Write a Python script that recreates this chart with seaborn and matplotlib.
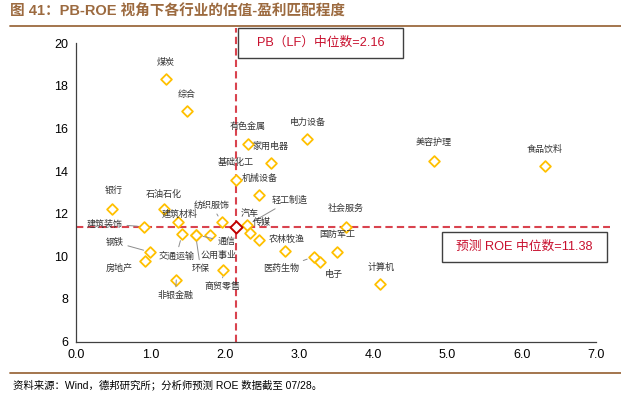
import numpy as np
import pandas as pd
import matplotlib
matplotlib.use('Agg')
import matplotlib.pyplot as plt
from matplotlib.patches import Rectangle
from matplotlib.lines import Line2D
import seaborn as sns

# industry data: PB (LF) and forecast ROE
industries = ['煤炭', '综合', '有色金属', '家用电器', '电力设备', '基础化工', '机械设备',
              '轻工制造', '汽车', '传媒', '农林牧渔', '医药生物', '电子', '国防军工',
              '社会服务', '计算机', '美容护理', '食品饮料', '银行', '石油石化', '建筑材料',
              '建筑装饰', '纺织服饰', '交通运输', '环保', '通信', '公用事业', '钢铁',
              '房地产', '非银金融', '商贸零售']
pb = [1.21, 1.49, 2.31, 2.62, 3.11, 2.15, 2.46,
      2.30, 2.34, 2.47, 2.81, 3.20, 3.28, 3.52,
      3.63, 4.09, 4.82, 6.31, 0.49, 1.19, 1.37,
      0.92, 1.96, 1.43, 1.61, 1.62, 1.80, 1.00,
      0.93, 1.35, 1.98]
roe = [18.31, 16.82, 15.29, 14.39, 15.51, 13.58, 12.86,
       11.46, 11.11, 10.75, 10.26, 9.98, 9.75, 10.20,
       11.39, 8.69, 14.49, 14.23, 12.23, 12.21, 11.61,
       11.39, 11.61, 11.05, 11.01, 11.01, 11.01, 10.20,
       9.77, 8.89, 9.36]
pb_median = 2.16
roe_median = 11.38

df = pd.DataFrame({'industry': industries, 'pb': pb, 'roe': roe})

# label offsets in pixels (dx, dy) and whether a leader line is drawn
label_pos = {
    '煤炭': (0, 17, False), '综合': (0, 17, False), '有色金属': (0, 17, False),
    '家用电器': (0, 17, False), '电力设备': (1, 17, False), '基础化工': (0, 18, False),
    '机械设备': (1, 17, False), '轻工制造': (43, 25, True), '汽车': (0, 19, False),
    '传媒': (2, 18, False), '农林牧渔': (2, 11, False), '医药生物': (-33, -12, True),
    '电子': (14, -13, False), '国防军工': (0, 18, False), '社会服务': (0, 18, False),
    '计算机': (1, 17, False), '美容护理': (0, 18, False), '食品饮料': (0, 17, False),
    '银行': (1, 18, False), '石油石化': (-1, 15, False), '建筑材料': (2, 8, False),
    '建筑装饰': (-40, 3, True), '纺织服饰': (-10, 17, True), '交通运输': (-6, -22, True),
    '环保': (5, -34, True), '通信': (30, -7, True), '公用事业': (9, -20, False),
    '钢铁': (-36, 10, True), '房地产': (-26, -7, False), '非银金融': (-1, -16, True),
    '商贸零售': (-1, -17, True),
}

sns.set_style('white')
plt.rcParams['font.family'] = ['Liberation Sans', 'Noto Sans CJK SC']

fig = plt.figure(figsize=(6.21, 3.94), dpi=100)
ax = fig.add_axes([0.1224, 0.1332, 0.8373, 0.7568])

brown = '#9C6A3F'
red_line = '#D9434E'
red_text = '#C8102E'

# median lines run a little past the plot area, as in the original
ax.axvline(pb_median, ymin=0, ymax=1.053, color=red_line, ls=(0, (3.5, 2)), lw=1.5,
           zorder=1, clip_on=False)
ax.axhline(roe_median, xmin=0, xmax=1.027, color=red_line, ls=(0, (3.5, 2)), lw=1.5,
           zorder=1, clip_on=False)

sns.scatterplot(data=df, x='pb', y='roe', marker='D', s=30, facecolor='white',
                edgecolor='#FFC000', linewidth=1.3, ax=ax, zorder=3)
sns.scatterplot(x=[pb_median], y=[roe_median], marker='D', s=38, facecolor='white',
                edgecolor='#C00000', linewidth=1.4, ax=ax, zorder=4)

for name, x, y in zip(industries, pb, roe):
    dx, dy, leader = label_pos[name]
    arrow = dict(arrowstyle='-', color='#8C8C8C', lw=0.7, shrinkA=1, shrinkB=5) if leader else None
    ax.annotate(name, (x, y), xytext=(dx, dy), textcoords='offset pixels',
                ha='center', va='center', fontsize=6.5, color='#333333',
                family=['Noto Sans CJK SC'], arrowprops=arrow, zorder=5)

ax.set_xlim(0, 7)
ax.set_ylim(6, 20)
ax.set_xticks(np.arange(0, 7.01, 1))
ax.set_xticklabels([f'{v:.1f}' for v in np.arange(0, 7.01, 1)])
ax.set_yticks(np.arange(6, 20.01, 2))
ax.set_xlabel('')
ax.set_ylabel('')
for s in ['top', 'right']:
    ax.spines[s].set_visible(False)
for s in ['left', 'bottom']:
    ax.spines[s].set_color('#404040')
    ax.spines[s].set_linewidth(0.9)
ax.tick_params(axis='both', direction='inout', length=5, width=0.9, color='#404040',
               labelsize=9, labelcolor='#000000', pad=3)

# median text boxes (figure pixel coords), drawn on top of the axes content
W, H = 621, 394
def pixel_box(x0, y0, x1, y1, text):
    ax.add_patch(Rectangle((x0 / W, 1 - y1 / H), (x1 - x0) / W, (y1 - y0) / H,
                           transform=fig.transFigure, facecolor='white',
                           edgecolor='#404040', lw=1.0, zorder=10, clip_on=False))
    ax.text((x0 + x1) / 2 / W, 1 - (y0 + y1) / 2 / H, text, ha='center', va='center',
            fontsize=9.2, color=red_text, zorder=11, transform=fig.transFigure,
            clip_on=False)

pixel_box(238, 28, 403, 58, 'PB（LF）中位数=2.16')
pixel_box(442, 232, 607, 262, '预测 ROE 中位数=11.38')

# title, rules and source note
fig.text(10 / W, 1 - 12 / H, '图 41：PB-ROE 视角下各行业的估值-盈利匹配程度',
         ha='left', va='center', fontsize=10.5, fontweight='bold', color=brown,
         family=['Liberation Sans', 'Noto Sans CJK SC'])
fig.add_artist(Line2D([10 / W, 1], [1 - 26 / H] * 2, color=brown, lw=1.3,
                      transform=fig.transFigure))
fig.add_artist(Line2D([10 / W, 1], [1 - 373 / H] * 2, color=brown, lw=1.3,
                      transform=fig.transFigure))
fig.text(13 / W, 1 - 385 / H, '资料来源：Wind，德邦研究所；分析师预测 ROE 数据截至 07/28。',
         ha='left', va='center', fontsize=7.5, color='#000000',
         family=['Liberation Sans', 'Noto Sans CJK SC'])

fig.savefig('out.png', dpi=100)
